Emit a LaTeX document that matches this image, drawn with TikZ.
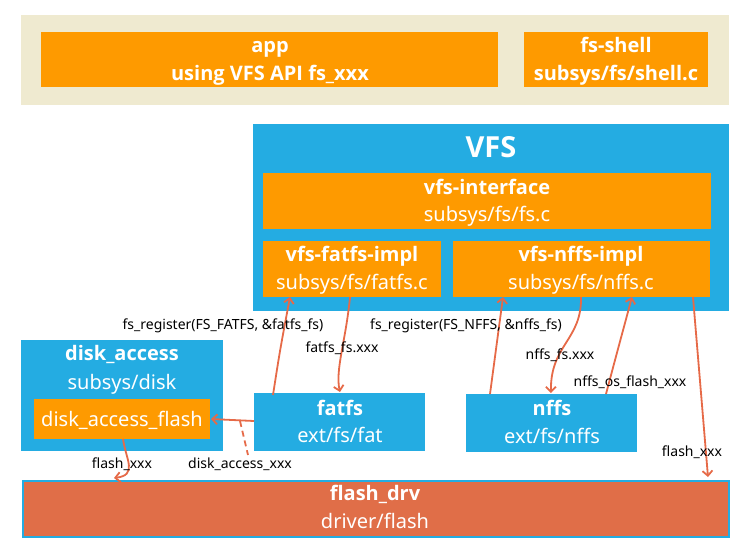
\documentclass[tikz,border=0pt]{standalone}
\usepackage{fontspec}
\setmainfont{Noto Sans}
\newfontfamily\boldfam{Open Sans}
\usetikzlibrary{arrows.meta}
\definecolor{cblue}{HTML}{24ACE2}
\definecolor{corange}{HTML}{FE9A00}
\definecolor{cbeige}{HTML}{EFEAD0}
\definecolor{cflash}{HTML}{E06E48}
\definecolor{carrow}{HTML}{E66A48}
\tikzset{
  box/.style={draw=none, inner sep=0pt, anchor=north west},
  ttl/.style={text=white, font=\boldfam\fontsize{20}{22}\selectfont\bfseries, inner sep=0pt, anchor=base},
  sub/.style={text=white, font=\fontsize{20}{22}\selectfont, inner sep=0pt, anchor=base},
  top/.style={text=white, font=\boldfam\fontsize{20}{22}\selectfont\bfseries, inner sep=0pt, anchor=base},
  lbl/.style={text=black, font=\fontsize{14}{16}\selectfont, inner sep=0pt, anchor=base},
  arr/.style={draw=carrow, line width=1.8pt, -{Straight Barb[length=5pt,width=10pt]}},
}
\begin{document}
\begin{tikzpicture}[x=1pt,y=-1pt]
\useasboundingbox (0,0) rectangle (750,550);
% top band
\node[box, fill=cbeige, minimum width=708, minimum height=90] (band) at (21,15) {};
\node[box, fill=corange, minimum width=457, minimum height=55] (app) at (41,32) {};
\node[box, fill=corange, minimum width=184, minimum height=55] (shell) at (524,32) {};
\node[top] (appA) at (270,52) {app};
\node[top] (appB) at (270,80) {using VFS API fs\_xxx};
\node[top] (shA) at (616,52) {fs-shell};
\node[top] (shB) at (616,80) {subsys/fs/shell.c};
% VFS
\node[box, fill=cblue, minimum width=476, minimum height=187] (vfs) at (253,124) {};
\node[text=white, font=\boldfam\fontsize{29}{31}\selectfont\bfseries, inner sep=0pt, anchor=base] (vfsT) at (491,157) {VFS};
\node[box, fill=corange, minimum width=448, minimum height=56] (vif) at (263,173) {};
\node[ttl] (vifA) at (487,194) {vfs-interface};
\node[sub] (vifB) at (487,221.5) {subsys/fs/fs.c};
\node[box, fill=corange, minimum width=178, minimum height=56] (vfat) at (263,241) {};
\node[ttl] (vfatA) at (352,261.5) {vfs-fatfs-impl};
\node[sub] (vfatB) at (352,289) {subsys/fs/fatfs.c};
\node[box, fill=corange, minimum width=257, minimum height=56] (vnffs) at (453,241) {};
\node[ttl] (vnffsA) at (581,261.5) {vfs-nffs-impl};
\node[sub] (vnffsB) at (581,289) {subsys/fs/nffs.c};
% disk access
\node[box, fill=cblue, minimum width=202, minimum height=111] (disk) at (21,340) {};
\node[ttl] (diskA) at (122,360.5) {disk\_access};
\node[sub] (diskB) at (122,389) {subsys/disk};
\node[box, fill=corange, minimum width=176, minimum height=40] (dflash) at (34,399) {};
\node[sub] (dflashT) at (122,426.5) {disk\_access\_flash};
% fatfs
\node[box, fill=cblue, minimum width=171, minimum height=58] (fatfs) at (254,393) {};
\node[ttl] (fatfsA) at (340,415) {fatfs};
\node[sub] (fatfsB) at (340,442) {ext/fs/fat};
% nffs
\node[box, fill=cblue, minimum width=171, minimum height=58] (nffs) at (466,394) {};
\node[ttl] (nffsA) at (552,415.5) {nffs};
\node[sub] (nffsB) at (552,443) {ext/fs/nffs};
% flash_drv
\node[box, draw=cblue, line width=2pt, fill=cflash, minimum width=706, minimum height=56] (flash) at (22,480) {};
\node[ttl] (flashA) at (375,500.5) {flash\_drv};
\node[sub] (flashB) at (375,528) {driver/flash};
% arrows
\coordinate (c1) at (273,395);
\coordinate (c2) at (290,297);
\draw[arr] (c1) .. controls (280,350) .. (c2);
\coordinate (c3) at (350,297);
\coordinate (c4) at (340,392);
\draw[arr] (c3) .. controls (346,340) and (335,370) .. (c4);
\coordinate (c5) at (254,421);
\coordinate (c6) at (211,419);
\draw[arr] (c5) -- (c6);
\coordinate (c7) at (240,421);
\coordinate (c8) at (248,455);
\draw[draw=carrow, line width=1.8pt, dash pattern=on 6pt off 4pt] (c7) -- (c8);
\coordinate (c9) at (123,439);
\coordinate (c10) at (114,478);
\draw[arr] (c9) .. controls (126,460) and (138,475) .. (c10);
\coordinate (n1) at (490,394);
\coordinate (n2) at (503,297);
\draw[arr] (n1) -- (n2);
\coordinate (n3) at (581,297);
\coordinate (n4) at (551,393);
\draw[arr] (n3) .. controls (582,340) and (550,345) .. (n4);
\coordinate (n5) at (606,394);
\coordinate (n6) at (632,297);
\draw[arr] (n5) .. controls (615,360) .. (n6);
\coordinate (n7) at (693,297);
\coordinate (n8) at (708,477);
\draw[arr] (n7) -- (n8);
% labels
\node[lbl] (l1) at (223,329) {fs\_register(FS\_FATFS, \&fatfs\_fs)};
\node[lbl] (l2) at (342,352.5) {fatfs\_fs.xxx};
\node[lbl] (l3) at (466,329) {fs\_register(FS\_NFFS, \&nffs\_fs)};
\node[lbl] (l4) at (560,359) {nffs\_fs.xxx};
\node[lbl] (l5) at (630,386.5) {nffs\_os\_flash\_xxx};
\node[lbl] (l6) at (692,456) {flash\_xxx};
\node[lbl] (l7) at (122,468) {flash\_xxx};
\node[lbl] (l8) at (240,468) {disk\_access\_xxx};
\end{tikzpicture}
\end{document}
